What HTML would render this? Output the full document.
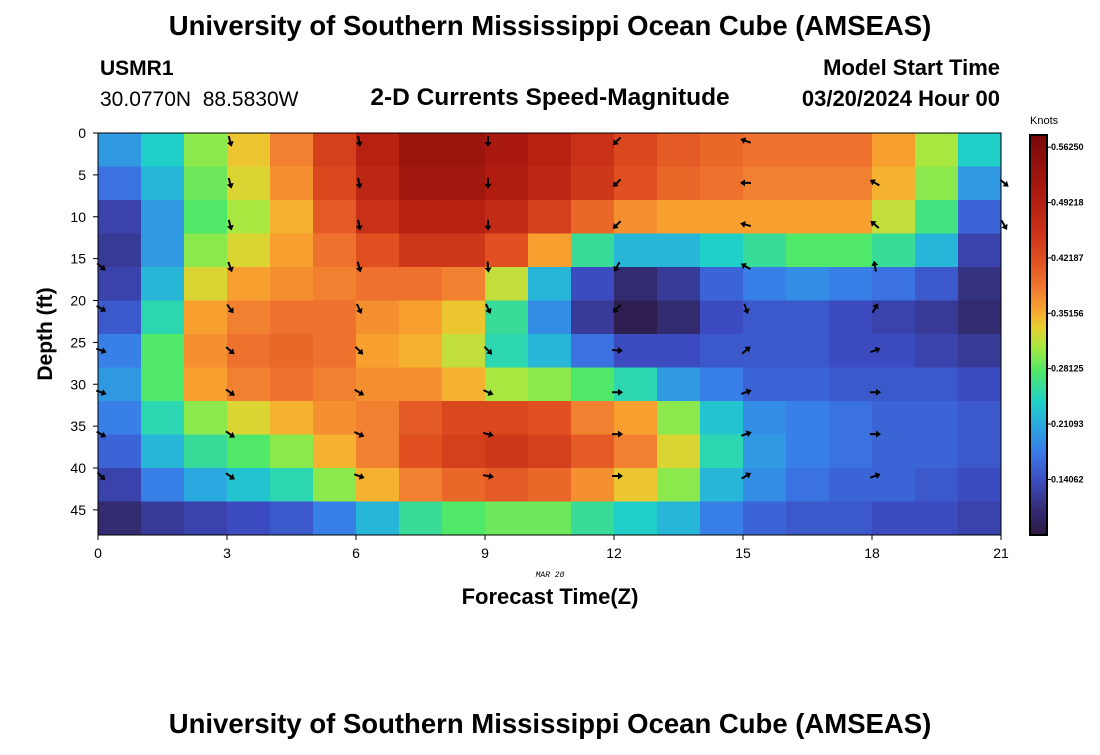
<!DOCTYPE html>
<html><head><meta charset="utf-8"><style>
body{margin:0;background:#fff;font-family:"Liberation Sans",sans-serif}
svg text{font-family:"Liberation Sans",sans-serif}
</style></head><body>
<svg id="chart" width="1100" height="750" xmlns="http://www.w3.org/2000/svg">
<text x="550" y="35" text-anchor="middle" font-size="27.5" font-weight="bold">University of Southern Mississippi Ocean Cube (AMSEAS)</text>
<text x="100" y="75" font-size="21" font-weight="bold">USMR1</text>
<text x="100" y="106" font-size="21" xml:space="preserve">30.0770N  88.5830W</text>
<text x="550" y="105" text-anchor="middle" font-size="24.5" font-weight="bold">2-D Currents Speed-Magnitude</text>
<text x="1000" y="75" text-anchor="end" font-size="22" font-weight="bold">Model Start Time</text>
<text x="1000" y="106" text-anchor="end" font-size="22" font-weight="bold">03/20/2024 Hour 00</text>
<g id="heat"></g>
<g id="arrows"></g>
<rect x="98" y="133" width="903" height="402" fill="none" stroke="#000" stroke-width="1"/>
<g id="axes"></g>
<text x="550" y="577" text-anchor="middle" font-size="8" font-style="italic" style="font-family:'Liberation Mono',monospace">MAR 20</text>
<text x="550" y="604" text-anchor="middle" font-size="22" font-weight="bold">Forecast Time(Z)</text>
<text transform="translate(52,334) rotate(-90)" text-anchor="middle" font-size="21" font-weight="bold">Depth (ft)</text>
<text x="1030" y="124" font-size="11">Knots</text>
<g id="cbar"></g>
<text x="550" y="733" text-anchor="middle" font-size="27.5" font-weight="bold">University of Southern Mississippi Ocean Cube (AMSEAS)</text>
</svg>
<script>
const hours=[0,1,2,3,4,5,6,7,8,9,10,11,12,13,14,15,16,17,18,19,20];
const depths=[0,4,8,12,16,20,24,28,32,36,40,44];
const speed=[
[0.20,0.17,0.13,0.12,0.13,0.15,0.18,0.20,0.18,0.16,0.13,0.10],
[0.24,0.22,0.20,0.20,0.22,0.25,0.28,0.28,0.25,0.22,0.18,0.12],
[0.30,0.29,0.28,0.30,0.33,0.36,0.37,0.36,0.30,0.26,0.21,0.13],
[0.34,0.33,0.31,0.33,0.36,0.38,0.39,0.38,0.33,0.28,0.23,0.14],
[0.38,0.37,0.35,0.36,0.37,0.39,0.40,0.39,0.35,0.30,0.25,0.15],
[0.44,0.43,0.41,0.39,0.38,0.39,0.39,0.38,0.37,0.35,0.30,0.18],
[0.49,0.48,0.46,0.42,0.39,0.37,0.36,0.37,0.38,0.38,0.35,0.22],
[0.53,0.52,0.49,0.45,0.39,0.36,0.35,0.37,0.41,0.42,0.38,0.26],
[0.53,0.52,0.49,0.45,0.38,0.34,0.32,0.35,0.43,0.44,0.40,0.28],
[0.51,0.50,0.47,0.42,0.32,0.26,0.25,0.31,0.43,0.45,0.41,0.29],
[0.49,0.48,0.44,0.36,0.22,0.19,0.22,0.30,0.42,0.44,0.40,0.29],
[0.46,0.45,0.40,0.26,0.14,0.12,0.17,0.28,0.38,0.41,0.37,0.26],
[0.43,0.42,0.37,0.22,0.10,0.08,0.14,0.25,0.36,0.38,0.34,0.24],
[0.41,0.40,0.36,0.22,0.12,0.10,0.14,0.20,0.30,0.33,0.30,0.22],
[0.40,0.39,0.36,0.24,0.16,0.14,0.15,0.18,0.23,0.25,0.22,0.18],
[0.39,0.38,0.36,0.26,0.18,0.15,0.15,0.16,0.19,0.20,0.19,0.16],
[0.39,0.38,0.36,0.28,0.19,0.15,0.15,0.16,0.18,0.18,0.17,0.15],
[0.39,0.38,0.36,0.28,0.18,0.14,0.14,0.15,0.17,0.17,0.16,0.15],
[0.36,0.35,0.32,0.26,0.17,0.13,0.14,0.15,0.16,0.16,0.16,0.14],
[0.31,0.30,0.27,0.22,0.15,0.12,0.13,0.15,0.16,0.16,0.15,0.14],
[0.24,0.20,0.16,0.13,0.11,0.10,0.12,0.14,0.15,0.15,0.14,0.13]];
const arrowHours=[0,3,6,9,12,15,18,21];
const arrowDepths=[0,5,10,15,20,25,30,35,40];
const arrowAngles=[
[null,null,null,40,30,20,20,30,45],
[75,75,75,70,55,40,35,35,35],
[80,80,80,75,65,45,30,25,20],
[90,90,90,85,65,45,25,15,10],
[135,135,135,120,135,5,0,0,0],
[200,180,195,210,70,-40,-20,-20,-30],
[null,210,220,-100,-60,-20,0,0,-20],
[null,40,60,null,null,null,null,null,null]];
const xTicks=[0,3,6,9,12,15,18,21];
const yTicks=[0,5,10,15,20,25,30,35,40,45];
const cbTicks=["0.14062","0.21093","0.28125","0.35156","0.42187","0.49218","0.56250"];
const cmapVals=[0.07,0.105,0.14,0.175,0.21,0.24,0.28,0.31,0.335,0.355,0.385,0.42,0.46,0.50,0.578];
const cmapCols=["#2c1840","#342e78","#3c4cc0","#3a78e8","#2aa8e0","#20d0c8","#50e868","#a8e840","#e8d030","#f8a830","#f07830","#e05020","#c83018","#b01c10","#7a0808"];
const vmin=0.07,vmax=0.578;
const X=h=>98+h*(903/21), Y=d=>133+d*(402/48);
const NS="http://www.w3.org/2000/svg";
function hex(c){return [1,3,5].map(i=>parseInt(c.substr(i,2),16));}
function col(v){
 if(v<=cmapVals[0])return cmapCols[0];
 for(let i=1;i<cmapVals.length;i++){if(v<=cmapVals[i]){const t=(v-cmapVals[i-1])/(cmapVals[i]-cmapVals[i-1]);const a=hex(cmapCols[i-1]),b=hex(cmapCols[i]);return `rgb(${a.map((x,k)=>Math.round(x+(b[k]-x)*t)).join(',')})`;}}
 return cmapCols[cmapCols.length-1];}
function el(tag,attrs,parent){const e=document.createElementNS(NS,tag);for(const k in attrs)e.setAttribute(k,attrs[k]);parent.appendChild(e);return e;}
const heat=document.getElementById('heat');
hours.forEach((h,i)=>depths.forEach((d,j)=>{
 const r=el('rect',{x:X(h),y:Y(d),width:X(h+1)-X(h)+0.5,height:Y(d+4)-Y(d)+0.5,fill:col(speed[i][j])},heat);
 
 
}));
const ar=document.getElementById('arrows');
arrowHours.forEach((h,i)=>arrowDepths.forEach((d,j)=>{
 const a=arrowAngles[i][j]; if(a===null)return;
 const g=el('g',{transform:`translate(${X(h)+3},${Y(d)+8}) rotate(${a})`},ar);
 
 
 el('line',{x1:-5,y1:0,x2:4,y2:0,stroke:'#000','stroke-width':2},g);
 el('path',{d:'M6,0 L1,-3.5 L1,3.5 Z',fill:'#000'},g);
}));
const ax=document.getElementById('axes');
xTicks.forEach(t=>{el('line',{x1:X(t),y1:535,x2:X(t),y2:540,stroke:'#000'},ax);
 const tx=el('text',{x:X(t),y:558,'text-anchor':'middle','font-size':14},ax);tx.textContent=t;
 
 });
yTicks.forEach(t=>{el('line',{x1:93,y1:Y(t),x2:98,y2:Y(t),stroke:'#000'},ax);
 const tx=el('text',{x:86,y:Y(t)+5,'text-anchor':'end','font-size':14},ax);tx.textContent=t;
 
 });
const cb=document.getElementById('cbar');
for(let y=135;y<535;y+=2){const v=vmax-(y-135)/400*(vmax-vmin);el('rect',{x:1030,y:y,width:17,height:2.5,fill:col(v)},cb);}
el('rect',{x:1030,y:135,width:17,height:400,fill:'none',stroke:'#000','stroke-width':2},cb);
cbTicks.forEach(s=>{const v=parseFloat(s);const y=135+(vmax-v)/(vmax-vmin)*400;
 el('line',{x1:1047,y1:y,x2:1051,y2:y,stroke:'#000'},cb);
 const tx=el('text',{x:1051,y:y+3,'font-size':9,'font-weight':'bold'},cb);tx.textContent=s;
 
 });
</script>
</body></html>
